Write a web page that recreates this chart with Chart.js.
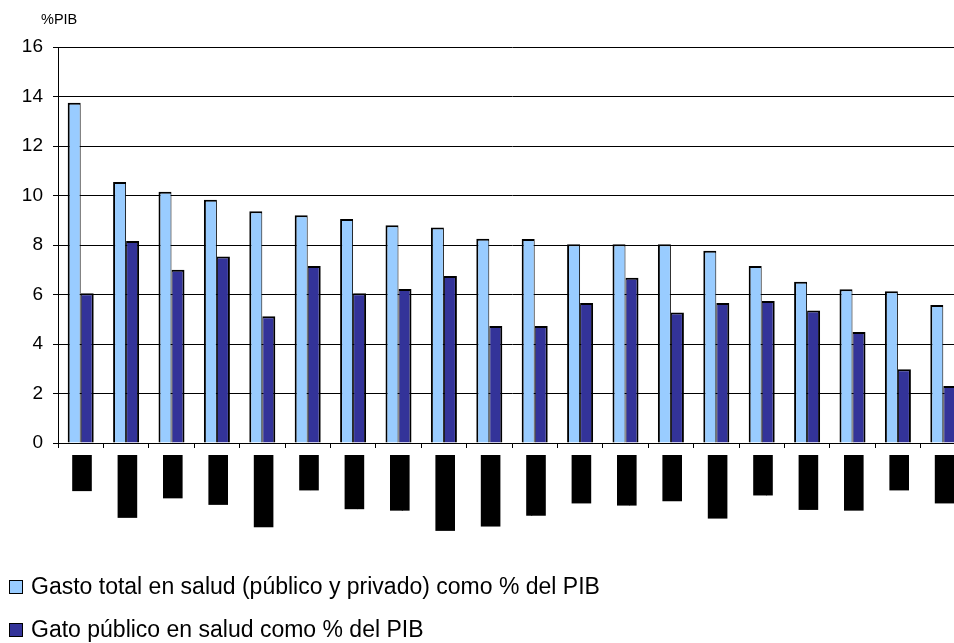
<!DOCTYPE html>
<html lang="es">
<head>
<meta charset="utf-8">
<title>Gasto en salud como % del PIB</title>
<script src="https://cdn.jsdelivr.net/npm/chart.js@4/dist/chart.umd.min.js"></script>
<style>
  html, body { margin: 0; padding: 0; background: #ffffff; overflow: hidden; }
  #wrap { position: relative; width: 970px; height: 643px; }
</style>
</head>
<body>
<div id="wrap"><canvas id="chart"></canvas></div>
<script>
// Países (etiquetas del eje X)
const countries = [
  'EEUU', 'Dinamarca', 'Francia', 'Noruega', 'Luxemburgo', 'Japón', 'Alemania',
  'Argentina', 'Países Bajos', 'Reino Unido', 'Venezuela', 'Portugal', 'Australia',
  'Hungría', 'Costa Rica', 'Austria', 'Colombia', 'Paraguay', 'Corea', 'Ecuador'
];

// Gasto total en salud (público y privado), % del PIB
const totalSpending = [
  13.75, 10.55, 10.15, 9.83, 9.36, 9.2, 9.05, 8.8, 8.71, 8.25,
  8.24, 8.03, 8.03, 8.03, 7.77, 7.15, 6.52, 6.21, 6.13, 5.58
];

// Gasto público en salud, % del PIB
const publicSpending = [
  6.05, 8.16, 7.0, 7.54, 5.12, 7.15, 6.05, 6.22, 6.75, 4.73,
  4.73, 5.66, 6.68, 5.27, 5.66, 5.74, 5.35, 4.48, 2.98, 2.3
];

// Marcas del eje Y
const yTicks = [0, 2, 4, 6, 8, 10, 12, 14, 16];

const unitLabel = '%PIB';
const seriesLabels = [
  'Gasto total en salud (público y privado) como % del PIB',
  'Gato público en salud como % del PIB'
];

const FONT = 'Arial, "Liberation Sans", sans-serif';

// Unidad sobre el eje Y y leyenda en dos filas bajo el gráfico
const annotations = {
  id: 'annotations',
  afterDraw(chart) {
    const ctx = chart.ctx;
    const area = chart.chartArea;
    ctx.save();
    ctx.fillStyle = '#000';
    ctx.textBaseline = 'middle';
    ctx.textAlign = 'left';
    ctx.font = '14.5px ' + FONT;
    ctx.fillText(unitLabel, area.left - 17, area.top - 27);

    const rows = [area.bottom + 144, area.bottom + 187];
    ctx.font = '23px ' + FONT;
    chart.data.datasets.forEach((ds, i) => {
      const y = rows[i];
      ctx.fillStyle = ds.backgroundColor;
      ctx.fillRect(9, y - 7, 14, 14);
      ctx.strokeStyle = '#000';
      ctx.lineWidth = 1;
      ctx.strokeRect(9.5, y - 6.5, 13, 13);
      ctx.fillStyle = '#000';
      ctx.fillText(ds.label, 31, y + 1);
    });
    ctx.restore();
  }
};

new Chart(document.getElementById('chart'), {
  type: 'bar',
  data: {
    labels: countries,
    datasets: [
      {
        label: seriesLabels[0],
        data: totalSpending,
        backgroundColor: '#99CCFF',
        borderColor: '#000000',
        borderWidth: { left: 2, right: 1, top: 2, bottom: 0 },
        borderSkipped: 'start',
        categoryPercentage: 0.573,
        barPercentage: 1.0
      },
      {
        label: seriesLabels[1],
        data: publicSpending,
        backgroundColor: '#333399',
        borderColor: '#000000',
        borderWidth: { left: 1, right: 2, top: 2, bottom: 0 },
        borderSkipped: 'start',
        categoryPercentage: 0.573,
        barPercentage: 1.0
      }
    ]
  },
  options: {
    responsive: true,
    maintainAspectRatio: false,
    animation: false,
    layout: { padding: { left: 0, right: 4, top: 47, bottom: 0 } },
    plugins: {
      legend: { display: false },
      tooltip: { enabled: false },
      title: { display: false }
    },
    scales: {
      x: {
        offset: true,
        grid: {
          display: true,
          offset: true,
          drawOnChartArea: false,
          drawTicks: true,
          tickLength: 5,
          color: '#000'
        },
        border: { display: true, color: '#000', width: 1 },
        ticks: {
          autoSkip: false,
          minRotation: 90,
          maxRotation: 90,
          padding: 7,
          labelOffset: -6.5,
          color: '#000',
          font: { family: FONT, size: 13 },
          showLabelBackdrop: true,
          backdropColor: '#000',
          backdropPadding: { top: 2, bottom: 2, left: 0, right: 0 }
        },
        afterFit(scale) { scale.height = 200; }
      },
      y: {
        min: 0,
        max: 16,
        afterBuildTicks(scale) { scale.ticks = yTicks.map(v => ({ value: v })); },
        grid: {
          color: '#000',
          lineWidth: 1,
          drawTicks: true,
          tickLength: 5
        },
        border: { display: true, color: '#000', width: 1 },
        ticks: {
          color: '#000',
          padding: 10,
          font: { family: FONT, size: 19 }
        },
        afterFit(scale) { scale.width = 58; }
      }
    }
  },
  plugins: [annotations]
});
</script>
</body>
</html>
